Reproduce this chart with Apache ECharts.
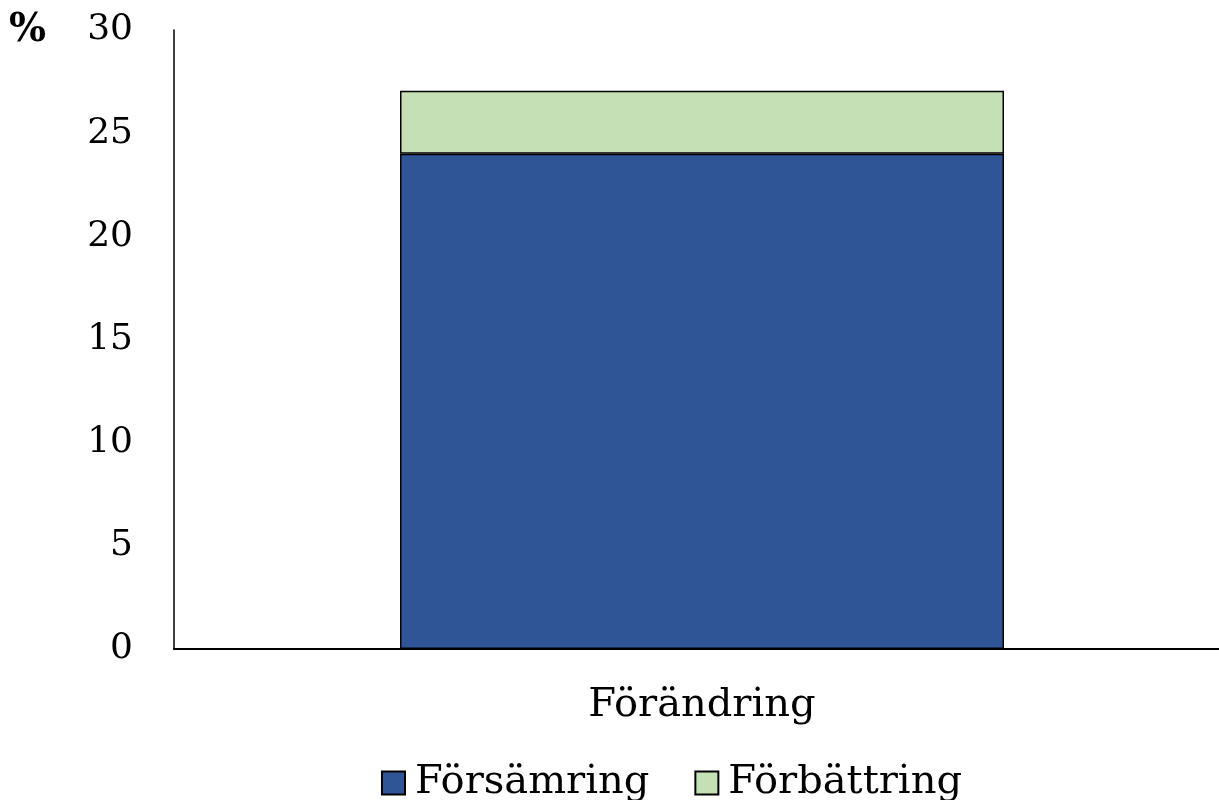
<!DOCTYPE html>
<html><head><meta charset="utf-8">
<script src="https://cdn.jsdelivr.net/npm/echarts@6/dist/echarts.min.js"></script>
<style>html,body{margin:0;padding:0;background:#fff}#c{width:1219px;height:800px}</style>
</head><body><div id="c"></div>
<script>
const categories = ['Förändring'];
const forsamring = [24];
const forbattring = [3.05];
const yTicks = [0, 5, 10, 15, 20, 25, 30];
const font = 'DejaVu Serif';
const chart = echarts.init(document.getElementById('c'));
chart.setOption({
  animation: false,
  textStyle: {fontFamily: font},
  graphic: [{type: 'text', left: 9, top: 11, style: {text: '%', font: 'bold 39px "DejaVu Serif"', fill: '#000'}}],
  legend: {
    left: 376, top: 758, itemWidth: 23, itemHeight: 23, itemGap: 45, icon: 'rect',
    textStyle: {fontFamily: font, fontSize: 40, lineHeight: 40, color: '#000', padding: [0, 0, 0, 5]},
    data: ['Försämring', 'Förbättring']
  },
  grid: {left: 174, width: 1056, top: 30, bottom: 151, containLabel: false, outerBoundsMode: 'none'},
  xAxis: {
    type: 'category', data: categories,
    axisLine: {lineStyle: {color: '#000', width: 2}},
    axisTick: {show: false},
    axisLabel: {fontFamily: font, fontSize: 40, color: '#000', margin: 37}
  },
  yAxis: {
    type: 'value', min: yTicks[0], max: yTicks[yTicks.length - 1], interval: 5,
    axisLine: {show: true, lineStyle: {color: '#000', width: 1.5}},
    axisTick: {show: false},
    splitLine: {show: false},
    axisLabel: {fontFamily: font, fontSize: 36, color: '#000', margin: 41}
  },
  series: [
    {name: 'Försämring', type: 'bar', stack: 's', data: forsamring, barWidth: 604,
     itemStyle: {color: '#2F5597', borderColor: '#000', borderWidth: 1.5}},
    {name: 'Förbättring', type: 'bar', stack: 's', data: forbattring, barWidth: 604,
     itemStyle: {color: '#C5E0B4', borderColor: '#000', borderWidth: 1.5}}
  ]
});
</script></body></html>
